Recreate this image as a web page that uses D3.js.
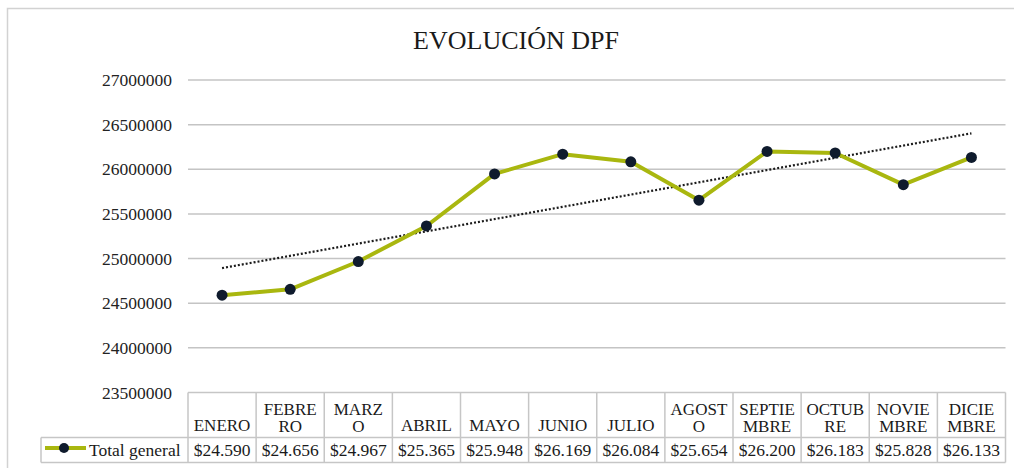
<!DOCTYPE html>
<html>
<head>
<meta charset="utf-8">
<script src="https://cdn.jsdelivr.net/npm/d3@7"></script>
<style>
  body { margin: 0; background: #fff; }
</style>
</head>
<body>
<svg width="1014" height="468"></svg>
<script>
// data
const months = ["ENERO", "FEBRERO", "MARZO", "ABRIL", "MAYO", "JUNIO", "JULIO",
  "AGOSTO", "SEPTIEMBRE", "OCTUBRE", "NOVIEMBRE", "DICIEMBRE"];
const headerLines = [["ENERO"], ["FEBRE", "RO"], ["MARZ", "O"], ["ABRIL"], ["MAYO"], ["JUNIO"],
  ["JULIO"], ["AGOST", "O"], ["SEPTIE", "MBRE"], ["OCTUB", "RE"], ["NOVIE", "MBRE"], ["DICIE", "MBRE"]];
const values = [24590000, 24656000, 24967000, 25365000, 25948000, 26169000,
  26084000, 25654000, 26200000, 26183000, 25828000, 26133000];
const cellLabels = ["$24.590", "$24.656", "$24.967", "$25.365", "$25.948", "$26.169",
  "$26.084", "$25.654", "$26.200", "$26.183", "$25.828", "$26.133"];
const yTicks = [23500000, 24000000, 24500000, 25000000, 25500000, 26000000, 26500000, 27000000];
const seriesName = "Total general";
const title = "EVOLUCIÓN DPF";

const serif = "'Liberation Serif', 'Times New Roman', Times, Tinos, 'Noto Serif', 'DejaVu Serif', FreeSerif, serif";
const svg = d3.select("svg").attr("font-family", serif);
const lineColor = "#a9b70f";
const markColor = "#0f1b2d";
const gridColor = "#c4c4c4";

// outer frame
svg.append("rect")
  .attr("x", 7.5).attr("y", 8.5)
  .attr("width", 1020).attr("height", 480)
  .attr("fill", "none")
  .attr("stroke", "#d2d2d2")
  .attr("stroke-width", 1.5);

// title
svg.append("text")
  .attr("x", 516).attr("y", 49)
  .attr("text-anchor", "middle")
  .attr("font-family", serif)
  .attr("font-size", 26)
  .attr("fill", "#1a1a1a")
  .text(title);

// scales
const x = d3.scaleBand().domain(months).range([188, 1005.5]).padding(0);
const y = d3.scaleLinear().domain([23500000, 27000000]).range([392.5, 80]);
const cx = (m) => x(m) + x.bandwidth() / 2;

// gridlines + y labels
const yAxis = svg.append("g");
yAxis.selectAll("line")
  .data(yTicks.filter((t) => t > 23500000))
  .enter().append("line")
    .attr("x1", 188).attr("x2", 1005.5)
    .attr("y1", (d) => y(d)).attr("y2", (d) => y(d))
    .attr("stroke", gridColor)
    .attr("stroke-width", 1.5);

yAxis.selectAll("text")
  .data(yTicks)
  .enter().append("text")
    .attr("x", 172)
    .attr("y", (d) => y(d))
    .attr("dy", "0.35em")
    .attr("text-anchor", "end")
    .attr("font-family", serif)
    .attr("font-size", 17.5)
    .attr("fill", "#222")
    .text((d) => d);

// data table
const rowTop = y(23500000);
const rowMid = 437.5;
const rowBot = 462.5;
const table = svg.append("g")
  .attr("stroke", "#c6c6c6")
  .attr("stroke-width", 1.5)
  .attr("fill", "none");

table.append("line").attr("x1", 188).attr("x2", 1005.5).attr("y1", rowTop).attr("y2", rowTop);
table.append("line").attr("x1", 41).attr("x2", 1005.5).attr("y1", rowMid).attr("y2", rowMid);
table.append("line").attr("x1", 41).attr("x2", 1005.5).attr("y1", rowBot).attr("y2", rowBot);
table.append("line").attr("x1", 41).attr("x2", 41).attr("y1", rowMid).attr("y2", rowBot);
table.selectAll(".vcol")
  .data(months.concat(["end"]))
  .enter().append("line")
    .attr("class", "vcol")
    .attr("x1", (d) => d === "end" ? 1005.5 : x(d))
    .attr("x2", (d) => d === "end" ? 1005.5 : x(d))
    .attr("y1", rowTop).attr("y2", rowBot);

// header labels
const header = svg.append("g")
  .attr("font-family", serif)
  .attr("font-size", 17)
  .attr("fill", "#1a1a1a")
  .attr("text-anchor", "middle");

header.selectAll("text")
  .data(months)
  .enter().append("text")
    .attr("x", (d) => cx(d))
    .each(function (d, i) {
      const lines = headerLines[i];
      const base = lines.length === 1 ? 431 : 415;
      d3.select(this).selectAll("tspan")
        .data(lines)
        .enter().append("tspan")
          .attr("x", cx(d))
          .attr("y", (l, j) => base + j * 17)
          .text((l) => l);
    });

// value cells
svg.append("g")
  .attr("font-family", serif)
  .attr("font-size", 17.5)
  .attr("fill", "#1a1a1a")
  .attr("text-anchor", "middle")
  .selectAll("text")
  .data(months)
  .enter().append("text")
    .attr("x", (d) => cx(d))
    .attr("y", 456)
    .text((d, i) => cellLabels[i]);

// legend key in table
const legendY = 448;
svg.append("line")
  .attr("x1", 45).attr("x2", 86)
  .attr("y1", legendY).attr("y2", legendY)
  .attr("stroke", lineColor).attr("stroke-width", 4);
svg.append("circle")
  .attr("cx", 64).attr("cy", legendY).attr("r", 5)
  .attr("fill", markColor);
svg.append("text")
  .attr("x", 89).attr("y", 456)
  .attr("font-family", serif)
  .attr("font-size", 17.5)
  .attr("fill", "#1a1a1a")
  .text(seriesName);

// trend line (least squares)
const n = values.length;
const idx = d3.range(1, n + 1);
const mx = d3.mean(idx);
const my = d3.mean(values);
const slope = d3.sum(idx, (k, i) => (k - mx) * (values[i] - my)) / d3.sum(idx, (k) => (k - mx) ** 2);
const icpt = my - slope * mx;
svg.append("line")
  .attr("x1", cx(months[0]))
  .attr("y1", y(icpt + slope * 1))
  .attr("x2", cx(months[n - 1]))
  .attr("y2", y(icpt + slope * n))
  .attr("stroke", "#1b1b1b")
  .attr("stroke-width", 2.2)
  .attr("stroke-dasharray", "2,2");

// series line
const line = d3.line()
  .x((d, i) => cx(months[i]))
  .y((d) => y(d));

svg.append("path")
  .datum(values)
  .attr("d", line)
  .attr("fill", "none")
  .attr("stroke", lineColor)
  .attr("stroke-width", 4)
  .attr("stroke-linejoin", "round");

svg.append("g")
  .selectAll("circle")
  .data(values)
  .enter().append("circle")
    .attr("cx", (d, i) => cx(months[i]))
    .attr("cy", (d) => y(d))
    .attr("r", 5.5)
    .attr("fill", markColor);
</script>
</body>
</html>
